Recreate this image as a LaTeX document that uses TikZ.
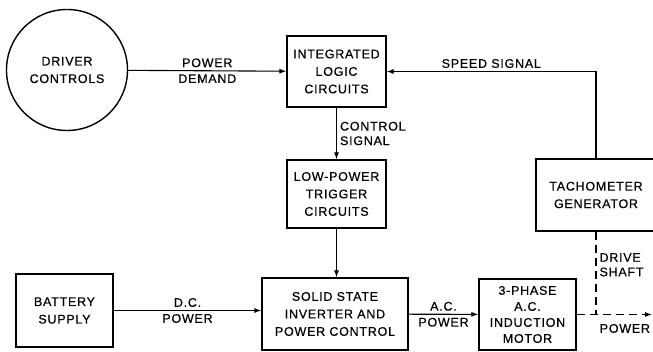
\documentclass[tikz,border=0pt]{standalone}
\usepackage{fontspec}
\setmainfont{Liberation Sans}[LetterSpace=6,FakeBold=0.5]
\usepackage{tikz}
\usetikzlibrary{arrows.meta,positioning}
\newcommand\lettering{\fontsize{12.5}{17.5}\selectfont}
\newcommand\tag{\fontsize{12.5}{14.5}\selectfont}

\begin{document}
\begin{tikzpicture}[x=1pt,y=-1pt,
  box/.style={draw,line width=1.2pt,inner sep=2pt,align=center,font=\lettering},
  lbl/.style={inner sep=3pt,font=\tag},
  arr/.style={-{Latex[length=7pt,width=5pt]},line width=1.1pt},
  shaft/.style={line width=1.1pt,dash pattern=on 8pt off 5pt}
]
\useasboundingbox (0,0) rectangle (653,352);
\node[circle,draw,line width=1.4pt,minimum size=121pt,align=center,font=\lettering] (drv) at (67,70) {DRIVER\\CONTROLS};
\node[box,minimum width=99pt,minimum height=71pt] (logic) at (336.5,71.5) {INTEGRATED\\LOGIC\\CIRCUITS};
\node[box,minimum width=99pt,minimum height=68pt] (trig) at (336.5,194) {LOW-POWER\\TRIGGER\\CIRCUITS};
\node[box,minimum width=146pt,minimum height=72pt] (inv) at (335,314) {SOLID STATE\\INVERTER AND\\POWER CONTROL};
\node[box,minimum width=97pt,minimum height=73pt] (batt) at (64.5,310.5) {BATTERY\\SUPPLY};
\node[box,minimum width=97pt,minimum height=71pt,font=\fontsize{12.5}{16}\selectfont] (motor) at (527.5,314.5) {3-PHASE\\A.C.\\INDUCTION\\MOTOR};
\node[box,minimum width=120pt,minimum height=72pt] (tach) at (596,195) {TACHOMETER\\GENERATOR};
\coordinate (out) at (652,314.5);
\draw[arr] (drv) -- node[lbl,above]{POWER} node[lbl,below]{DEMAND} (logic);
\draw[arr] (tach.north) |- node[lbl,above,pos=0.75]{SPEED SIGNAL} (logic.east);
\draw[arr] (logic) -- node[lbl,right,align=left]{CONTROL\\SIGNAL} (trig);
\draw[arr] (trig.south) -- (trig.south |- inv.north);
\draw[arr] (batt.east) -- node[lbl,above]{D.C.} node[lbl,below]{POWER} (batt.east -| inv.west);
\draw[arr] (inv) -- node[lbl,above]{A.C.} node[lbl,below]{POWER} (motor);
\draw[shaft,arr] (motor.east) -- node[lbl,below,pos=0.64,yshift=-6pt]{POWER} (out);
\draw[shaft] (tach.south) -- node[lbl,right,align=left,pos=0.4]{DRIVE\\SHAFT} (tach.south |- motor.east);
\end{tikzpicture}
\end{document}
